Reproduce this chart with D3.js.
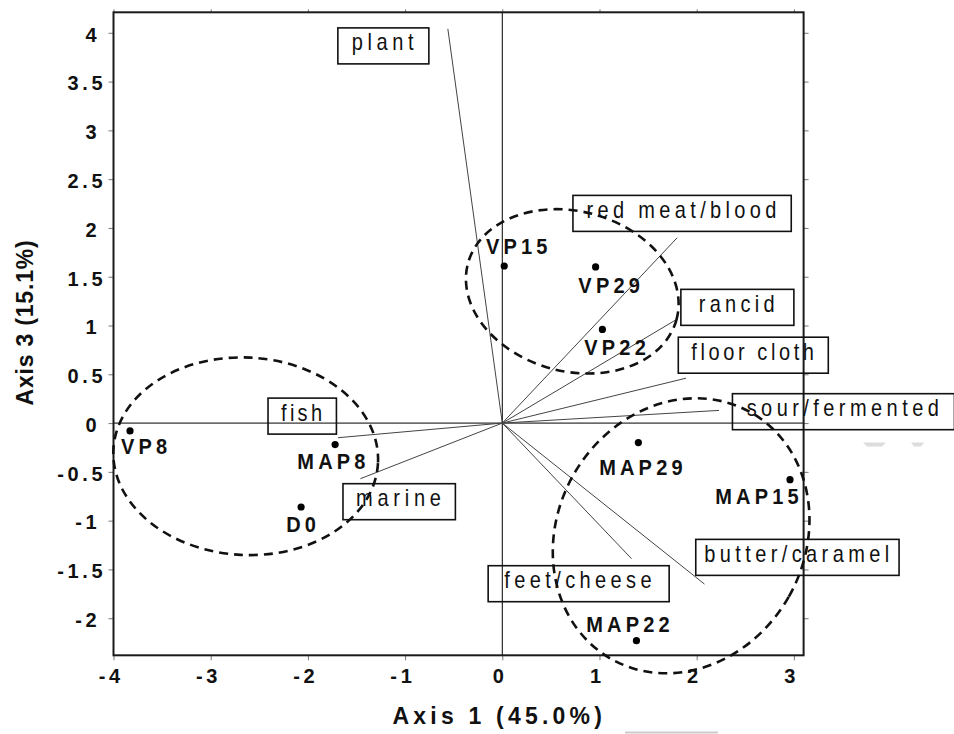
<!DOCTYPE html>
<html><head><meta charset="utf-8">
<script src="https://cdn.jsdelivr.net/npm/d3@7"></script>
<style>body{margin:0;background:#fff;} svg{display:block;font-family:"Liberation Sans",Arial,sans-serif;}</style>
</head><body>
<svg id="chart" width="954" height="734"></svg>
<script>
// ---------- data ----------
const sampleNames = ["VP8","MAP8","D0","VP15","VP29","VP22","MAP29","MAP15","MAP22"];
const sampleAxis1 = [-3.83,-1.72,-2.07,0.02,0.96,1.03,1.40,2.96,1.38];
const sampleAxis3 = [-0.08,-0.22,-0.86,1.61,1.60,0.96,-0.20,-0.58,-2.23];

const attributeNames = ["plant","red meat/blood","rancid","floor cloth","sour/fermented","butter/caramel","feet/cheese","fish","marine"];
const attributeAxis1 = [-0.56,1.80,1.79,1.89,2.23,2.08,1.33,-1.69,-1.46];
const attributeAxis3 = [4.04,1.90,1.06,0.46,0.13,-1.65,-1.39,-0.15,-0.57];

const groupNames = ["D0/MAP8/VP8","VP15/VP22/VP29","MAP15/MAP22/MAP29"];
const groupCx = [-2.64, 0.72, 1.84];
const groupCy = [-0.34, 1.35, -1.155];
const groupRx = [1.363, 1.111, 1.273];
const groupRy = [1.012, 0.820, 1.452];

const xTicks = [-4,-3,-2,-1,0,1,2,3];
const yTicks = [-2,-1.5,-1,-0.5,0,0.5,1,1.5,2,2.5,3,3.5,4];
const xTitle = "Axis 1 (45.0%)";
const yTitle = "Axis 3 (15.1%)";

// ---------- layout (pixels) ----------
const groupAngle = [3, 15, 29.6];
const sampleLabelDx = [14, -3.7, 0, 12.5, 13.5, 12.6, 2.5, -33, -8.5];
const sampleLabelDy = [23.3, 24, 24.7, -12, 25.7, 25.3, 32, 24.3, -9];
const boxDx = [-110, -104.3, 4.6, -7.7, 13.4, -8.7, -143.4, -70, -17.4];
const boxDy = [-1, -42.3, -30.3, -41, -16.7, -44.7, 7, -39.6, 5];
const boxW = [91, 218.3, 113, 150, 222, 203.3, 181, 68.4, 112.4];
const boxTextW = [62, 190, 75.7, 122.7, 192.3, 185, 147.3, 41, 85];

const svg = d3.select("#chart");
const x = d3.scaleLinear().domain([-4, 3.1]).range([113.5, 803.6]);
const y = d3.scaleLinear().domain([-2.38, 4.21]).range([655.3, 12.3]);
const L = x.range()[0], R = x.range()[1], T = y.range()[1], B = y.range()[0];

// ticks
const tickCol = "#777";
svg.append("g").attr("transform", `translate(0,${B})`)
  .call(d3.axisBottom(x).tickValues(xTicks).tickSize(5).tickFormat(""))
  .call(g => { g.select(".domain").remove(); g.selectAll("line").attr("stroke", tickCol); });
svg.append("g").attr("transform", `translate(0,${T})`)
  .call(d3.axisTop(x).tickValues(xTicks).tickSize(3).tickFormat(""))
  .call(g => { g.select(".domain").remove(); g.selectAll("line").attr("stroke", tickCol); });
svg.append("g").attr("transform", `translate(${L},0)`)
  .call(d3.axisLeft(y).tickValues(yTicks).tickSize(5).tickFormat(""))
  .call(g => { g.select(".domain").remove(); g.selectAll("line").attr("stroke", tickCol); });
svg.append("g").attr("transform", `translate(${R},0)`)
  .call(d3.axisRight(y).tickValues(yTicks).tickSize(5).tickFormat(""))
  .call(g => { g.select(".domain").remove(); g.selectAll("line").attr("stroke", tickCol); });

// tick labels
const tls = 3.7;
svg.append("g").selectAll("text").data(xTicks).join("text")
  .attr("x", d => x(d) - 4 + tls/2).attr("y", 683.3)
  .attr("text-anchor", "middle").attr("font-weight", "bold").attr("font-size", 20)
  .attr("letter-spacing", tls).attr("fill", "#111").text(d => String(d));
svg.append("g").selectAll("text").data(yTicks).join("text")
  .attr("x", d => 102.7 + tls - (Number.isInteger(d) ? 6 : 0)).attr("y", d => y(d) + 8.8)
  .attr("text-anchor", "end").attr("font-weight", "bold").attr("font-size", 20)
  .attr("letter-spacing", tls).attr("fill", "#111").text(d => String(d));

// axis titles
svg.append("text").attr("x", 497.2 + 2.1).attr("y", 724)
  .attr("text-anchor", "middle").attr("font-weight", "bold").attr("font-size", 23)
  .attr("letter-spacing", 4.2).attr("fill", "#111").text(xTitle);
svg.append("text").attr("transform", "translate(33.3,322.5) rotate(-90)")
  .attr("text-anchor", "middle").attr("font-weight", "bold").attr("font-size", 23)
  .attr("letter-spacing", 0.8).attr("fill", "#111").text(yTitle);

// zero lines
svg.append("line").attr("x1", x(0)).attr("x2", x(0)).attr("y1", T).attr("y2", B).attr("stroke", "#000").attr("stroke-width", 1);
svg.append("line").attr("x1", L).attr("x2", R).attr("y1", y(0)).attr("y2", y(0)).attr("stroke", "#000").attr("stroke-width", 1);

// frame
svg.append("rect").attr("x", L).attr("y", T).attr("width", R - L).attr("height", B - T)
  .attr("fill", "none").attr("stroke", "#1a1a1a").attr("stroke-width", 2);

// attribute vectors
const attrs = attributeNames.map((n, i) => ({name: n, a1: attributeAxis1[i], a3: attributeAxis3[i], i}));
svg.append("g").selectAll("line").data(attrs).join("line")
  .attr("x1", x(0)).attr("y1", y(0))
  .attr("x2", d => x(d.a1)).attr("y2", d => y(d.a3))
  .attr("stroke", "#444").attr("stroke-width", 1);

// attribute label boxes
const boxG = svg.append("g").selectAll("g").data(attrs).join("g")
  .attr("transform", d => `translate(${x(d.a1) + boxDx[d.i]},${y(d.a3) + boxDy[d.i]})`);
boxG.each(function(d) {
  const g = d3.select(this);
  g.append("rect").attr("width", boxW[d.i]).attr("height", 36).attr("fill", "none")
    .attr("stroke", "#111").attr("stroke-width", 1.6);
  const t = g.append("text").attr("text-anchor", "middle")
    .attr("font-size", 20).attr("fill", "#111").text(d.name);
  const natural = t.node().getComputedTextLength();
  const n = d.name.length;
  const ls = (boxTextW[d.i] - natural) / (n - 1);
  t.attr("letter-spacing", ls)
   .attr("transform", `translate(${boxW[d.i] / 2 - 0.7 + ls / 2},22.5) scale(1,1.16)`);
});

// group ellipses
const groups = groupNames.map((n, i) => ({name: n, i}));
svg.append("g").selectAll("ellipse").data(groups).join("ellipse")
  .attr("transform", d => `translate(${x(groupCx[d.i])},${y(groupCy[d.i])}) rotate(${groupAngle[d.i]})`)
  .attr("rx", d => x(groupCx[d.i] + groupRx[d.i]) - x(groupCx[d.i]))
  .attr("ry", d => y(groupCy[d.i]) - y(groupCy[d.i] + groupRy[d.i]))
  .attr("fill", "none").attr("stroke", "#111").attr("stroke-width", 2.6)
  .attr("stroke-dasharray", "9,6");

// samples
const samples = sampleNames.map((n, i) => ({name: n, a1: sampleAxis1[i], a3: sampleAxis3[i], i}));
svg.append("g").selectAll("circle").data(samples).join("circle")
  .attr("cx", d => x(d.a1)).attr("cy", d => y(d.a3)).attr("r", 3.6).attr("fill", "#000");
const sls = 4.2;
svg.append("g").selectAll("text").data(samples).join("text")
  .attr("transform", d => `translate(${x(d.a1) + sampleLabelDx[d.i] + sls/2},${y(d.a3) + sampleLabelDy[d.i]}) scale(1,1.1)`)
  .attr("text-anchor", "middle").attr("font-weight", "bold").attr("font-size", 20)
  .attr("letter-spacing", sls).attr("fill", "#111").text(d => d.name);

// faint scan marks present in the reference image
svg.append("g").attr("fill", "#ddd").selectAll("polygon")
  .data([[[863,442.5],[886,442.5],[882,446.5],[867,446.5]],[[911,442.5],[924,442.5],[921,446.5],[914,446.5]]])
  .join("polygon").attr("points", d => d.map(p => p.join(",")).join(" "));
svg.append("line").attr("x1", 625).attr("x2", 718).attr("y1", 732.5).attr("y2", 732.5).attr("stroke", "#ccc").attr("stroke-width", 2);
</script>
</body></html>
